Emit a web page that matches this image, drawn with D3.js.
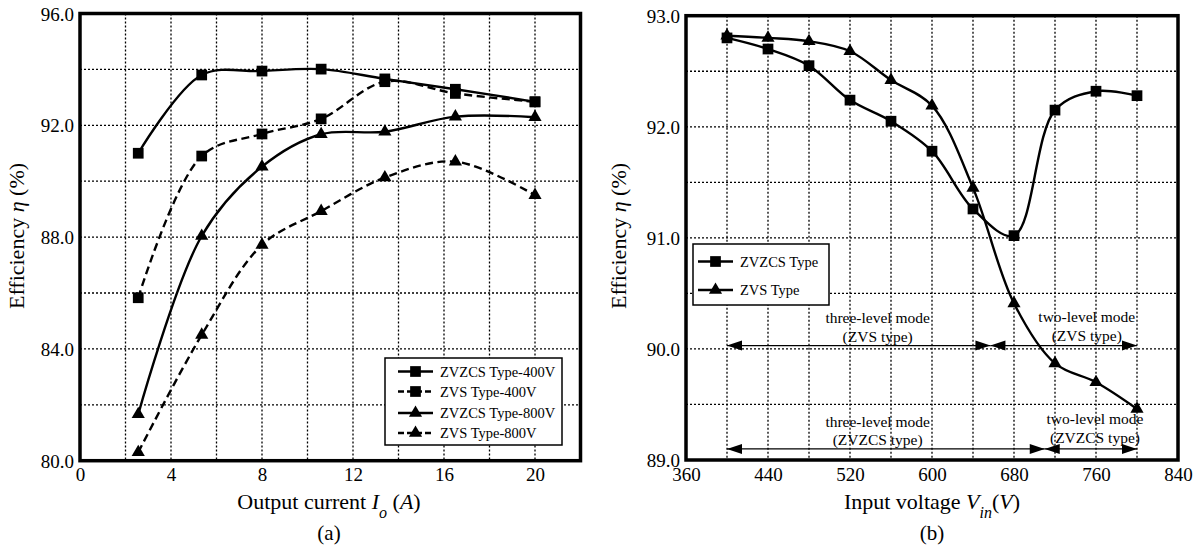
<!DOCTYPE html>
<html>
<head>
<meta charset="utf-8">
<script src="https://cdn.jsdelivr.net/npm/d3@7"></script>
<style>
  body { margin: 0; background: #fff; }
  svg { font-family: "Liberation Serif", "Times New Roman", serif; }
</style>
</head>
<body>
<svg id="chart" width="1197" height="546"></svg>
<script>
// ---- panel (a): efficiency vs output current
const currentA = [2.56, 5.35, 8, 10.6, 13.4, 16.5, 20];
const zvzcs400 = [91.0, 93.8, 93.94, 94.01, 93.66, 93.29, 92.84];
const zvs400 = [85.83, 90.9, 91.69, 92.23, 93.56, 93.14, 92.84];
const zvzcs800 = [81.66, 88.04, 90.52, 91.68, 91.77, 92.31, 92.29];
const zvs800 = [80.3, 84.5, 87.72, 88.93, 90.13, 90.7, 89.5];
const namesA = ['ZVZCS Type-400V', 'ZVS Type-400V', 'ZVZCS Type-800V', 'ZVS Type-800V'];
const xTicksA = [0, 4, 8, 12, 16, 20];
const yTicksA = [80, 84, 88, 92, 96];

// ---- panel (b): efficiency vs input voltage
const voltageB = [400, 440, 480, 520, 560, 600, 640, 680, 720, 760, 800];
const zvzcsB = [92.80, 92.70, 92.55, 92.24, 92.05, 91.78, 91.26, 91.02, 92.15, 92.32, 92.28];
const zvsB = [92.82, 92.80, 92.77, 92.68, 92.42, 92.19, 91.45, 90.41, 89.87, 89.70, 89.46];
const namesB = ['ZVZCS Type', 'ZVS Type'];
const xTicksB = [360, 440, 520, 600, 680, 760, 840];
const yTicksB = [89, 90, 91, 92, 93];

// operating mode ranges (double-headed arrows) and their labels
const modeArrows = [
  { from: 400, to: 657, y: 90.03 },
  { from: 657, to: 800, y: 90.03 },
  { from: 400, to: 710, y: 89.10 },
  { from: 710, to: 800, y: 89.10 }
];
const modeLabels = [
  { x: 547, y: 90.23, lines: ['three-level mode', '(ZVS type)'] },
  { x: 751, y: 90.24, lines: ['two-level mode', '(ZVS type)'] },
  { x: 547, y: 89.30, lines: ['three-level mode', '(ZVZCS type)'] },
  { x: 759, y: 89.32, lines: ['two-level mode', '(ZVZCS type)'] }
];

const svg = d3.select('#chart');

function drawPanel(cfg) {
  const x = d3.scaleLinear().domain(cfg.xDomain).range([cfg.left, cfg.right]);
  const y = d3.scaleLinear().domain(cfg.yDomain).range([cfg.bottom, cfg.top]);
  const g = svg.append('g');

  // dotted grid
  g.selectAll('.vgrid')
    .data(cfg.xGrid)
    .join('line')
    .attr('x1', (d) => x(d)).attr('x2', (d) => x(d))
    .attr('y1', cfg.top).attr('y2', cfg.bottom)
    .attr('stroke', '#000').attr('stroke-width', 1.3)
    .attr('stroke-dasharray', '2,2');
  g.selectAll('.hgrid')
    .data(cfg.yGrid)
    .join('line')
    .attr('y1', (d) => y(d)).attr('y2', (d) => y(d))
    .attr('x1', cfg.left).attr('x2', cfg.right)
    .attr('stroke', '#000').attr('stroke-width', 1.3)
    .attr('stroke-dasharray', '2,2');

  // tick labels
  const ax = g.append('g')
    .attr('transform', `translate(0,${cfg.bottom + 7})`)
    .call(d3.axisBottom(x).tickValues(cfg.xTicks).tickSize(0).tickPadding(0)
      .tickFormat(d3.format('d')));
  const ay = g.append('g')
    .attr('transform', `translate(${cfg.left - 6},0)`)
    .call(d3.axisLeft(y).tickValues(cfg.yTicks).tickSize(0).tickPadding(0)
      .tickFormat(d3.format('.1f')));
  [ax, ay].forEach((a) => {
    a.select('.domain').remove();
    a.selectAll('text')
      .attr('font-family', '"Liberation Serif", serif')
      .attr('font-size', 19).attr('fill', '#000');
  });
  ay.selectAll('text').attr('dy', '0.35em');
  ax.selectAll('text').attr('dy', '0.71em');

  // curves
  const line = d3.line()
    .x((d) => x(d[0])).y((d) => y(d[1]))
    .curve(d3.curveCatmullRom.alpha(0.5));
  cfg.series.forEach((s) => {
    const pts = cfg.xs.map((v, i) => [v, s.values[i]]);
    g.append('path')
      .attr('d', line(pts))
      .attr('fill', 'none').attr('stroke', '#000')
      .attr('stroke-width', 2.4)
      .attr('stroke-dasharray', s.dashed ? '8,4.5' : null);
    g.selectAll(null)
      .data(pts)
      .join('path')
      .attr('transform', (d) => `translate(${x(d[0])},${y(d[1])})`)
      .attr('d', markerPath(s.marker));
  });

  // frame
  g.append('rect')
    .attr('x', cfg.left).attr('y', cfg.top)
    .attr('width', cfg.right - cfg.left).attr('height', cfg.bottom - cfg.top)
    .attr('fill', 'none').attr('stroke', '#000').attr('stroke-width', 3.5);

  return { x, y, g };
}

function markerPath(type) {
  if (type === 'square') return d3.symbol().type(d3.symbolSquare).size(115)();
  return d3.symbol().type(d3.symbolTriangle).size(75)();
}

function drawLegend(g, box, series, rowY) {
  g.append('rect')
    .attr('x', box.x).attr('y', box.y).attr('width', box.w).attr('height', box.h)
    .attr('fill', '#fff').attr('stroke', '#000').attr('stroke-width', 1.5);
  series.forEach((s, i) => {
    const cy = box.y + rowY[i];
    g.append('line')
      .attr('x1', box.x + box.lineX).attr('x2', box.x + box.lineX + 35)
      .attr('y1', cy).attr('y2', cy)
      .attr('stroke', '#000').attr('stroke-width', 2.4)
      .attr('stroke-dasharray', s.dashed ? '6,3' : null);
    g.append('path')
      .attr('transform', `translate(${box.x + box.lineX + 17.5},${cy})`)
      .attr('d', markerPath(s.marker));
    g.append('text')
      .attr('x', box.x + box.lineX + 42).attr('y', cy)
      .attr('dy', '0.35em').attr('font-size', 14.5)
      .text(s.name);
  });
}

function axisTitles(cx, titleParts, label, yLabelX) {
  const t = svg.append('text')
    .attr('x', cx).attr('y', 509).attr('text-anchor', 'middle')
    .attr('font-size', 22);
  titleParts.forEach((p) => {
    const ts = t.append('tspan').text(p.t);
    if (p.i) ts.attr('font-style', 'italic');
    if (p.sub) ts.attr('baseline-shift', 'sub').attr('font-size', 16);
  });
  svg.append('text')
    .attr('x', cx).attr('y', 540).attr('text-anchor', 'middle')
    .attr('font-size', 21).text(label);

  const yt = svg.append('text')
    .attr('transform', `translate(${yLabelX},236) rotate(-90)`)
    .attr('text-anchor', 'middle').attr('font-size', 22);
  yt.append('tspan').text('Efficiency ');
  yt.append('tspan').attr('font-style', 'italic').text('η');
  yt.append('tspan').text(' (%)');
}

// ---- draw panel (a)
const seriesA = [
  { name: namesA[0], values: zvzcs400, marker: 'square', dashed: false },
  { name: namesA[1], values: zvs400, marker: 'square', dashed: true },
  { name: namesA[2], values: zvzcs800, marker: 'triangle', dashed: false },
  { name: namesA[3], values: zvs800, marker: 'triangle', dashed: true }
];
const pa = drawPanel({
  left: 80, right: 580.5, top: 13.5, bottom: 460.7,
  xDomain: [0, 22], yDomain: [80, 96],
  xGrid: d3.range(2, 21, 2), yGrid: d3.range(82, 95, 2),
  xTicks: xTicksA, yTicks: yTicksA,
  xs: currentA, series: seriesA
});
drawLegend(pa.g, { x: 385, y: 358, w: 177, h: 87, lineX: 13 }, seriesA, [13.5, 33.5, 55, 75]);
axisTitles(329, [
  { t: 'Output current ' }, { t: 'I', i: true }, { t: 'o', i: true, sub: true },
  { t: ' (' }, { t: 'A', i: true }, { t: ')' }
], '(a)', 24);

// ---- draw panel (b)
const seriesB = [
  { name: namesB[0], values: zvzcsB, marker: 'square', dashed: false },
  { name: namesB[1], values: zvsB, marker: 'triangle', dashed: false }
];
const pb = drawPanel({
  left: 686, right: 1178, top: 15.7, bottom: 460,
  xDomain: [360, 840], yDomain: [89, 93],
  xGrid: d3.range(400, 801, 40), yGrid: d3.range(89.5, 92.6, 0.5),
  xTicks: xTicksB, yTicks: yTicksB,
  xs: voltageB, series: seriesB
});
drawLegend(pb.g, { x: 693, y: 244, w: 136, h: 61, lineX: 5 }, seriesB, [17.5, 46]);

// mode arrows
function arrowHead(x, y, dir) {
  const L = 15, W = 5;
  return `M${x},${y}L${x - dir * L},${y - W}L${x - dir * L},${y + W}Z`;
}
modeArrows.forEach((a) => {
  const x0 = pb.x(a.from), x1 = pb.x(a.to), yy = pb.y(a.y);
  pb.g.append('line')
    .attr('x1', x0).attr('x2', x1).attr('y1', yy).attr('y2', yy)
    .attr('stroke', '#000').attr('stroke-width', 1.3);
  pb.g.append('path').attr('d', arrowHead(x0, yy, -1));
  pb.g.append('path').attr('d', arrowHead(x1, yy, 1));
});
modeLabels.forEach((m) => {
  m.lines.forEach((l, i) => {
    pb.g.append('text')
      .attr('x', pb.x(m.x)).attr('y', pb.y(m.y) + i * 18.5)
      .attr('text-anchor', 'middle').attr('font-size', 15.5)
      .text(l);
  });
});

axisTitles(932, [
  { t: 'Input voltage ' }, { t: 'V', i: true }, { t: 'in', i: true, sub: true },
  { t: '(' }, { t: 'V', i: true }, { t: ')' }
], '(b)', 626);
</script>
</body>
</html>
